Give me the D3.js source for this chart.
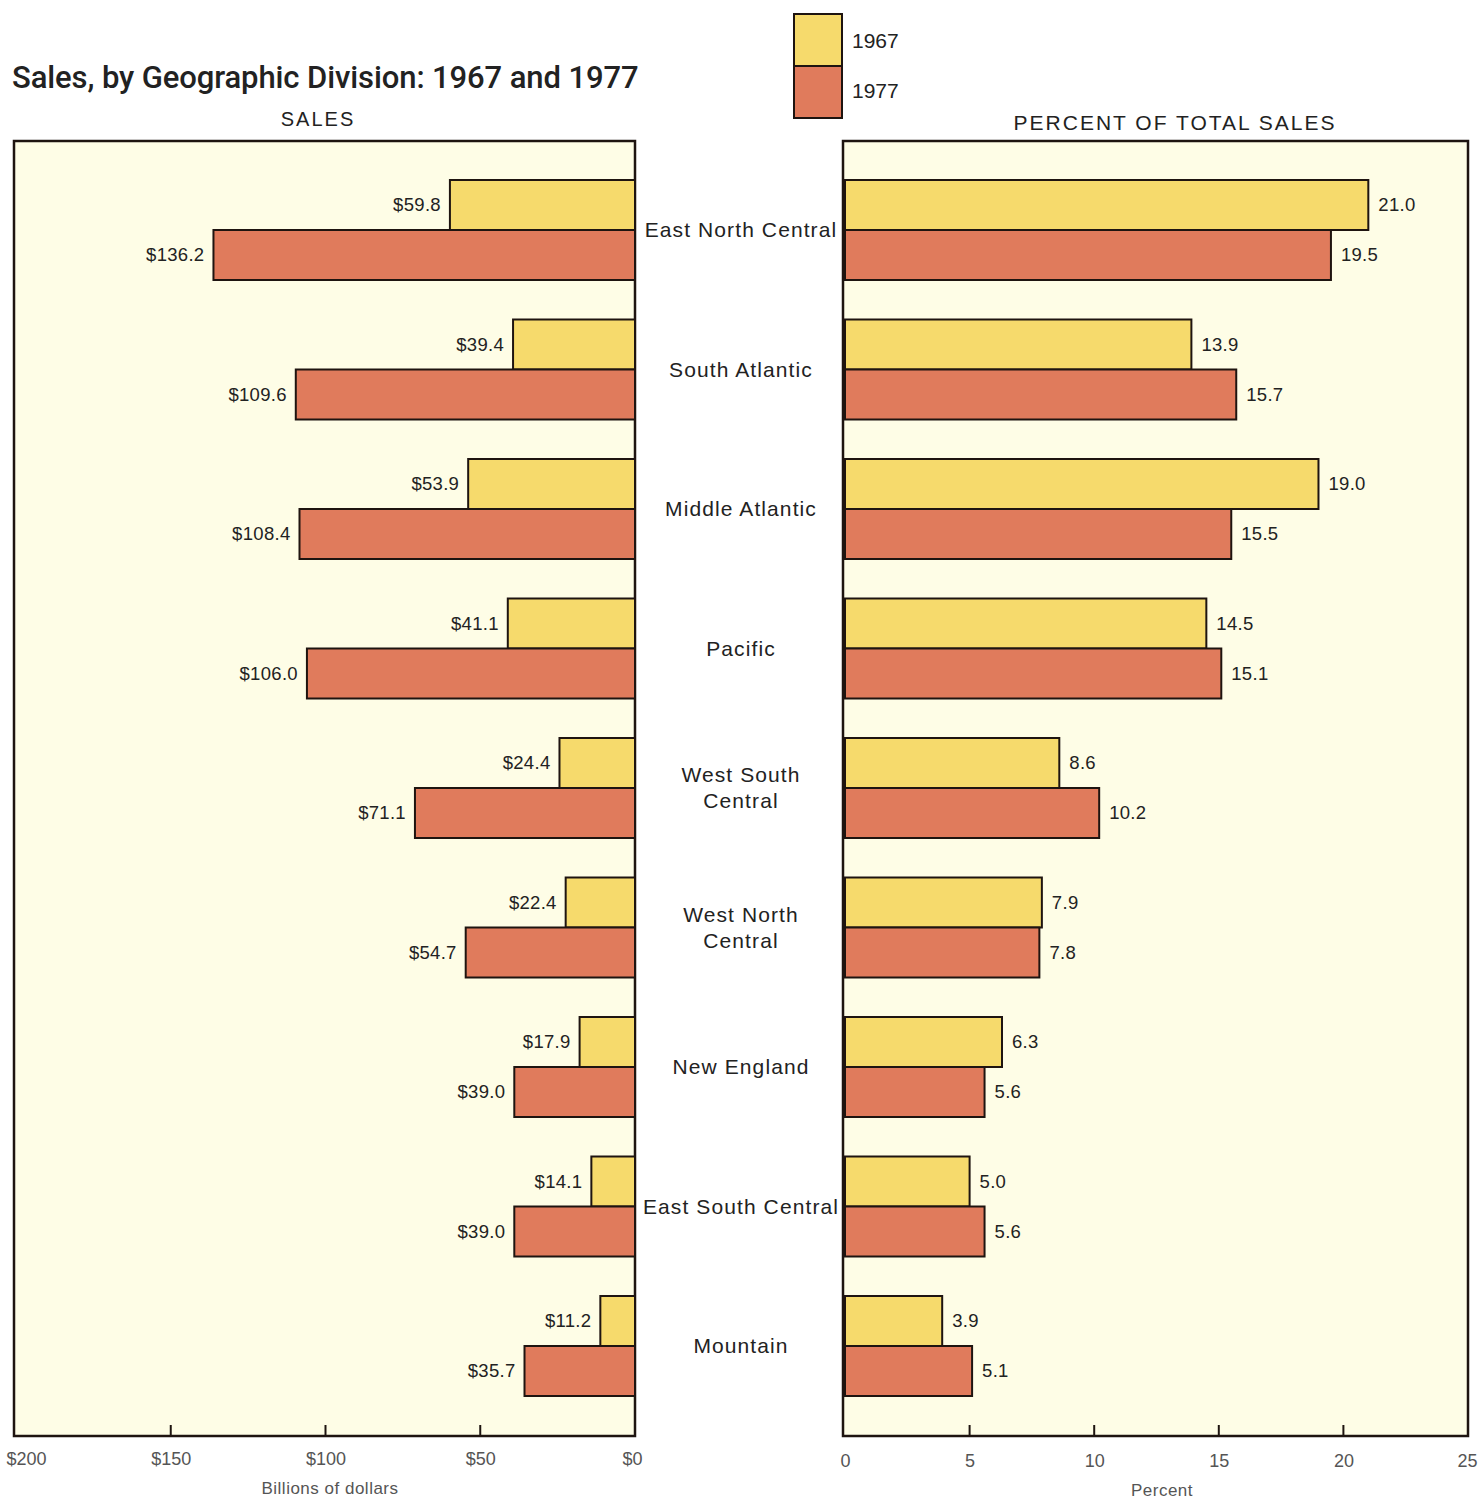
<!DOCTYPE html>
<html><head><meta charset="utf-8">
<script src="https://cdn.jsdelivr.net/npm/d3@7"></script>
<style>body{margin:0;background:#fff}svg{display:block}</style>
</head><body>
<script>
const categories = ["East North Central","South Atlantic","Middle Atlantic","Pacific","West South Central","West North Central","New England","East South Central","Mountain"];
const categoryLines = [["East North Central"],["South Atlantic"],["Middle Atlantic"],["Pacific"],["West South","Central"],["West North","Central"],["New England"],["East South Central"],["Mountain"]];
const sales1967 = [59.8,39.4,53.9,41.1,24.4,22.4,17.9,14.1,11.2];
const sales1977 = [136.2,109.6,108.4,106.0,71.1,54.7,39.0,39.0,35.7];
const pct1967 = [21.0,13.9,19.0,14.5,8.6,7.9,6.3,5.0,3.9];
const pct1977 = [19.5,15.7,15.5,15.1,10.2,7.8,5.6,5.6,5.1];
const salesTicks = [200,150,100,50,0];
const salesTickLabels = ["$200","$150","$100","$50","$0"];
const pctTicks = [0,5,10,15,20,25];
const years = ["1967","1977"];

const W=1481,H=1499;
const YEL="#f6da6c", RED="#e07b5c", BG="#fefde6", INK="#1e1410";
const FONT="'Liberation Sans', Arial, sans-serif";

const svg=d3.select("body").append("svg").attr("width",W).attr("height",H);

// Title
svg.append("text").attr("x",12).attr("y",88).text("Sales, by Geographic Division:  1967 and 1977")
  .attr("font-family","Roboto, 'Liberation Sans', sans-serif").attr("font-weight",500)
  .attr("font-size",31).attr("letter-spacing",-0.1).attr("fill","#222");

// Legend
const colors=[YEL,RED];
years.forEach((y,i)=>{
  svg.append("rect").attr("x",794).attr("y",14+i*52).attr("width",48).attr("height",52)
    .attr("fill",colors[i]).attr("stroke",INK).attr("stroke-width",2);
  svg.append("text").attr("x",852).attr("y",48+i*50).text(y)
    .attr("font-family",FONT).attr("font-size",21).attr("fill","#222");
});

// Panel headers
svg.append("text").attr("x",318).attr("y",126).attr("text-anchor","middle").text("SALES")
  .attr("font-family",FONT).attr("font-size",20).attr("letter-spacing",2).attr("fill","#222");
svg.append("text").attr("x",1175).attr("y",130).attr("text-anchor","middle").text("PERCENT OF TOTAL SALES")
  .attr("font-family",FONT).attr("font-size",21).attr("letter-spacing",2).attr("fill","#222");

const panelTop=141, panelBottom=1436;
const xL=d3.scaleLinear().domain([0,200]).range([635,16]);
const xR=d3.scaleLinear().domain([0,25]).range([845,1468]);
const yC=d3.scalePoint().domain(categories).range([230,230+8*139.5]);
const bh=50;

// Panels
svg.append("rect").attr("x",xL(200)-2).attr("y",panelTop).attr("width",xL(0)-xL(200)+2).attr("height",panelBottom-panelTop)
  .attr("fill",BG).attr("stroke",INK).attr("stroke-width",2.5);
svg.append("rect").attr("x",xR(0)-2).attr("y",panelTop).attr("width",xR(25)-xR(0)+2).attr("height",panelBottom-panelTop)
  .attr("fill",BG).attr("stroke",INK).attr("stroke-width",2.5);

// Axes
const axL=d3.axisBottom(xL).tickValues(salesTicks).tickFormat((d,i)=>salesTickLabels[i]).tickSize(0).tickPadding(16);
const gL=svg.append("g").attr("transform",`translate(0,${panelBottom})`).call(axL);
const axR=d3.axisBottom(xR).tickValues(pctTicks).tickFormat(d3.format("d")).tickSize(0).tickPadding(18);
const gR=svg.append("g").attr("transform",`translate(0,${panelBottom})`).call(axR);
[gL,gR].forEach(g=>{
  g.select(".domain").remove();
  g.selectAll("text").attr("font-family",FONT).attr("font-size",18).attr("fill","#555");
});
gL.selectAll(".tick").filter(d=>d===200).select("text").attr("x",10);
gL.selectAll(".tick").filter(d=>d===0).select("text").attr("x",-3);
gR.selectAll(".tick").filter(d=>d===25).select("text").attr("x",-1);
// inner tick marks
svg.append("g").selectAll("line").data(salesTicks.filter(d=>d>0&&d<200)).join("line")
  .attr("x1",d=>xL(d)).attr("x2",d=>xL(d)).attr("y1",panelBottom).attr("y2",panelBottom-11)
  .attr("stroke",INK).attr("stroke-width",2);
svg.append("g").selectAll("line").data(pctTicks.filter(d=>d>0&&d<25)).join("line")
  .attr("x1",d=>xR(d)).attr("x2",d=>xR(d)).attr("y1",panelBottom).attr("y2",panelBottom-11)
  .attr("stroke",INK).attr("stroke-width",2);

svg.append("text").attr("x",330).attr("y",1494).attr("text-anchor","middle").text("Billions of dollars")
  .attr("font-family",FONT).attr("font-size",17).attr("letter-spacing",0.5).attr("fill","#555");
svg.append("text").attr("x",1162).attr("y",1496).attr("text-anchor","middle").text("Percent")
  .attr("font-family",FONT).attr("font-size",17).attr("letter-spacing",0.5).attr("fill","#555");

// Bars
function drawSeries(vals, x, color, off, side, fmt){
  svg.append("g").selectAll("rect").data(vals).join("rect")
    .attr("x",d=> side==="L"? x(d): x(0))
    .attr("width",d=>Math.abs(x(d)-x(0)))
    .attr("y",(d,i)=>yC(categories[i])+off).attr("height",bh)
    .attr("fill",color).attr("stroke",INK).attr("stroke-width",2);
  svg.append("g").selectAll("text").data(vals).join("text")
    .attr("x",d=> side==="L"? x(d)-9 : x(d)+10)
    .attr("y",(d,i)=>yC(categories[i])+off+bh/2)
    .attr("dy","0.35em")
    .attr("text-anchor", side==="L"?"end":"start")
    .attr("font-family",FONT).attr("font-size",18.5).attr("letter-spacing",0.3).attr("fill","#222")
    .text(fmt);
}
drawSeries(sales1967,xL,YEL,-bh,"L",d=>"$"+d.toFixed(1));
drawSeries(sales1977,xL,RED,0,"L",d=>"$"+d.toFixed(1));
drawSeries(pct1967,xR,YEL,-bh,"R",d=>d.toFixed(1));
drawSeries(pct1977,xR,RED,0,"R",d=>d.toFixed(1));

// Category labels
categories.forEach((c,i)=>{
  const lines=categoryLines[i];
  const t=svg.append("text").attr("x",741).attr("text-anchor","middle")
    .attr("font-family",FONT).attr("font-size",21).attr("letter-spacing",1.1).attr("fill","#222");
  lines.forEach((l,j)=>{
    t.append("tspan").attr("x",741)
     .attr("y",yC(c)+(j-(lines.length-1)/2)*26).attr("dy","0.35em").text(l);
  });
});
</script>
</body></html>
